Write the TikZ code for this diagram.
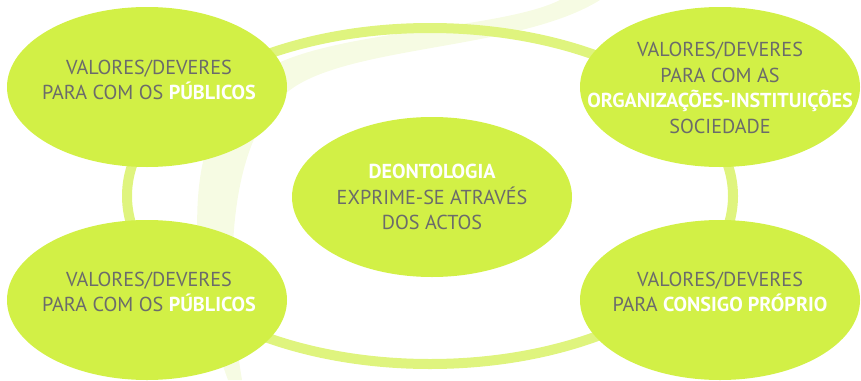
\documentclass[tikz,border=0pt]{standalone}
\usepackage{fontspec}
\setmainfont{PT Sans}
\usetikzlibrary{shapes.geometric,positioning}

\definecolor{limefill}{HTML}{D2F046}
\definecolor{ringgreen}{HTML}{DFF47E}
\definecolor{paleswoosh}{HTML}{F6FBE3}
\definecolor{txtgray}{HTML}{6B6B6B}
\newcommand{\hl}[1]{\textcolor{white}{\textbf{#1}}}

\begin{document}
\begin{tikzpicture}[x=1pt,y=-1pt,
  bubble/.style={ellipse, fill=limefill, minimum width=280pt, minimum height=160pt, inner sep=0pt},
  words/.style={align=center, text=txtgray, inner sep=0pt, font=\fontsize{20.2}{25.5}\selectfont},
  ring/.style={draw=ringgreen, line width=10pt}]

\useasboundingbox (0,0) rectangle (861,380);

% pale stroke in the background
\fill[paleswoosh] (560,0) .. controls (500,30) and (330,30) .. (265,70)
  .. controls (185,110) and (180,250) .. (228,380) -- (242,380)
  .. controls (225,280) and (225,140) .. (290,90)
  .. controls (350,45) and (520,50) .. (600,0) -- cycle;

% ring behind the bubbles
\draw[ring] (430,196) ellipse [x radius=303, y radius=168];

\node[bubble] (deon) at (432,197) {};
\node[bubble] (pubtop) at (147,87) {};
\node[bubble] (org) at (720,87) {};
\node[bubble] (pubbot) at (147,300) {};
\node[bubble] (self) at (720,300) {};

\node[words] (deontxt) at (432,197) {\hl{DEONTOLOGIA}\\EXPRIME-SE ATRAVÉS\\DOS ACTOS};
\node[words] (pubtoptxt) at (149,80) {VALORES/DEVERES\\PARA COM OS \hl{PÚBLICOS}};
\node[words] (orgtxt) at (720,88) {VALORES/DEVERES\\PARA COM AS\\\hl{ORGANIZAÇÕES-INSTITUIÇÕES}\\SOCIEDADE};
\node[words] (pubbottxt) at (149,292) {VALORES/DEVERES\\PARA COM OS \hl{PÚBLICOS}};
\node[words] (selftxt) at (720,292) {VALORES/DEVERES\\PARA \hl{CONSIGO PRÓPRIO}};

\end{tikzpicture}
\end{document}
